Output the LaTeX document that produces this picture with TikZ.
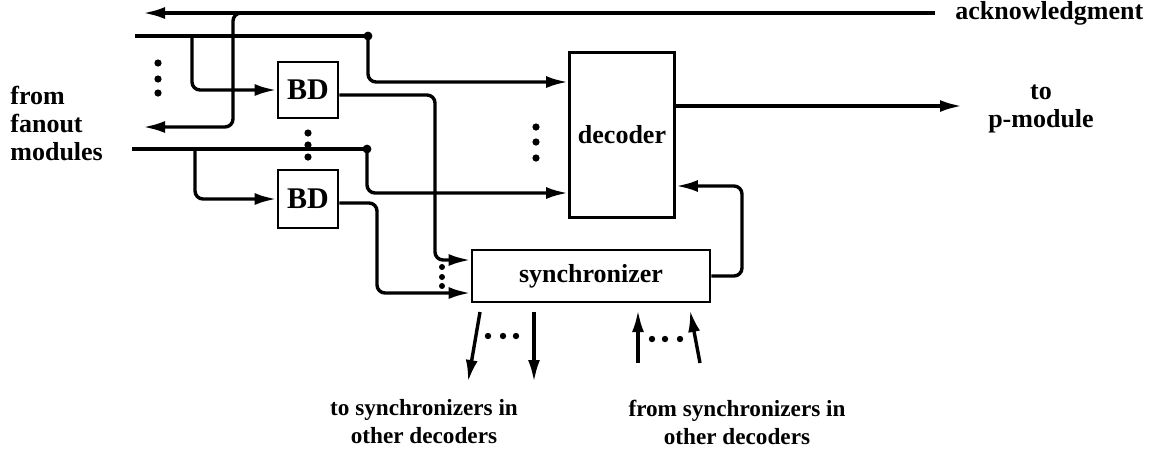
\documentclass[tikz,border=0pt]{standalone}
\usepackage{fontspec}
\setmainfont{Liberation Serif}
\usetikzlibrary{arrows.meta,calc}
\begin{document}
\begin{tikzpicture}[x=0.5pt,y=-0.5pt,
  wire/.style={line width=1.7pt},
  arr/.style={wire,-{Latex[length=11pt,width=6pt]}},
  rnd/.style={rounded corners=4pt},
  blk/.style={draw,line width=1.4pt,inner sep=0pt,font=\fontsize{13}{14}\selectfont\bfseries},
  lbl/.style={inner sep=0pt,align=center,font=\fontsize{13}{14}\selectfont\bfseries},
  small/.style={font=\fontsize{11.6}{14}\selectfont\bfseries},
]
\useasboundingbox (0,0) rectangle (1163,457);

% blocks
\node[blk,minimum width=30pt,minimum height=28pt,font=\fontsize{15}{16}\selectfont\bfseries] (bd1) at (308,90) {BD};
\node[blk,minimum width=30pt,minimum height=29pt,font=\fontsize{15}{16}\selectfont\bfseries] (bd2) at (308,199) {BD};
\node[blk,minimum width=52.5pt,minimum height=82.5pt] (dec) at (622,135) {decoder};
\node[blk,minimum width=119pt,minimum height=26pt] (sync) at (591,276) {synchronizer};

% labels
\node[lbl,align=left,anchor=west] (from) at (10,123) {from\\fanout\\modules};
\node[lbl,anchor=west] (ack) at (955,13) {acknowledgment};
\node[lbl] (pmod) at (1041,109) {to\\p-module};
\node[lbl,small] (tosync) at (424,422) {to synchronizers in\\other decoders};
\node[lbl,small] (fromsync) at (737,422) {from synchronizers in\\other decoders};

% coordinates
\coordinate (ackL1) at (143,13);
\coordinate (ackB) at (233,13);
\coordinate (ackL2) at (143,127);
\coordinate (in1) at (135,36);
\coordinate (j1) at (368,36);
\coordinate (b1) at (192,36);
\coordinate (in2) at (132,149);
\coordinate (j2) at (367,149);
\coordinate (b2) at (195,149);
\coordinate (pout) at (962,106);
\coordinate (o1s) at (480,312);
\coordinate (o1e) at (468,382);
\coordinate (o2s) at (534,312);
\coordinate (o2e) at (534,382);
\coordinate (i1s) at (638,363);
\coordinate (i1e) at (638,310);
\coordinate (i2s) at (700,363);
\coordinate (i2e) at (690,310);

% acknowledgment
\draw[arr] ($(ack.west)+(-20,0)$) -- (ackL1);
\draw[arr,rnd] ($(ackB)+(15,0)$) -- (ackB) -- (ackB |- ackL2) -- (ackL2);

% input group 1
\draw[wire] (in1) -- (j1);
\draw[arr,rnd] (j1) |- ($(dec.west)+(0,-53)$);
\draw[arr,rnd] (b1) |- (bd1.west);
\draw[arr,rnd] ($(bd1.east)+(0,5)$) -- (435,95) -- (435,260) -- ($(sync.west)+(0,-16)$);

% input group 2
\draw[wire] (in2) -- (j2);
\draw[arr,rnd] (j2) |- ($(dec.west)+(0,58)$);
\draw[arr,rnd] (b2) |- (bd2.west);
\draw[arr,rnd] ($(bd2.east)+(0,4)$) -- (377,203) -- (377,293) -- ($(sync.west)+(0,17)$);

% decoder output and feedback
\draw[arr] ($(dec.east)+(0,-29)$) -- (pout);
\draw[arr,rnd] (sync.east) -- (742,276) -- (742,186) -- ($(dec.east)+(0,51)$);

% synchronizer links
\draw[arr] (o1s) -- (o1e);
\draw[arr] (o2s) -- (o2e);
\draw[arr] (i1s) -- (i1e);
\draw[arr] (i2s) -- (i2e);

% junction dots
\fill (j1) circle (2.2pt);
\fill (j2) circle (2.2pt);

% ellipsis dots
\foreach \y in {63,79,93} \fill (158,\y) circle (1.8pt);
\foreach \y in {133,145,157} \fill (308,\y) circle (1.8pt);
\foreach \y in {127,142,158} \fill (536,\y) circle (1.8pt);
\foreach \y in {267,277,286} \fill (442,\y) circle (1.5pt);
\foreach \x in {488,503,516} \fill (\x,336) circle (1.6pt);
\foreach \x in {652,665,680} \fill (\x,339) circle (1.6pt);
\end{tikzpicture}
\end{document}
